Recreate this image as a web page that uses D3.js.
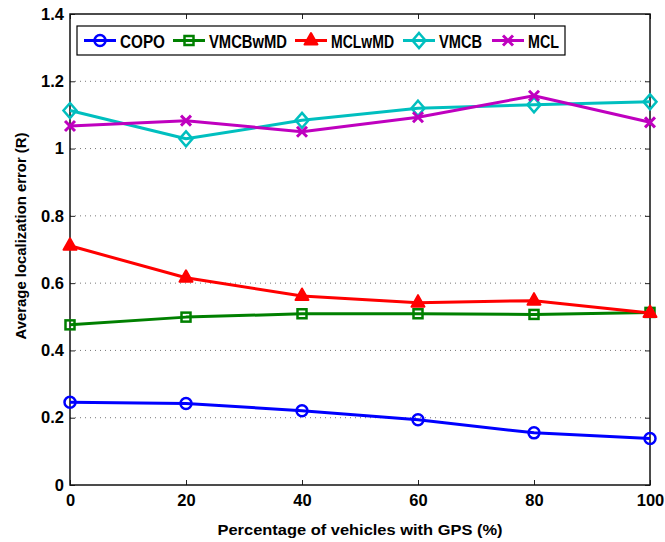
<!DOCTYPE html>
<html>
<head>
<meta charset="utf-8">
<script src="https://cdn.jsdelivr.net/npm/d3@7"></script>
<style>
  body { margin: 0; background: #fff; }
  text { font-family: "Liberation Sans", Arial, sans-serif; font-weight: bold; }
</style>
</head>
<body>
<svg id="chart" width="665" height="542"></svg>
<script>
// data
const gpsPct = [0, 20, 40, 60, 80, 100];
const copo    = [0.246, 0.242, 0.221, 0.194, 0.155, 0.138];
const vmcbwmd = [0.476, 0.499, 0.509, 0.509, 0.507, 0.513];
const mclwmd  = [0.711, 0.616, 0.562, 0.542, 0.548, 0.511];
const vmcb    = [1.113, 1.029, 1.084, 1.120, 1.130, 1.139];
const mcl     = [1.067, 1.083, 1.050, 1.093, 1.157, 1.078];
const yTicks = [0, 0.2, 0.4, 0.6, 0.8, 1, 1.2, 1.4];
const xTicks = [0, 20, 40, 60, 80, 100];

const series = [
  { name: "COPO",    values: copo,    color: "#0000ff", marker: "circle",   textW: 45 },
  { name: "VMCBwMD", values: vmcbwmd, color: "#008000", marker: "square",   textW: 78 },
  { name: "MCLwMD",  values: mclwmd,  color: "#ff0000", marker: "triangle", textW: 63 },
  { name: "VMCB",    values: vmcb,    color: "#00bfbf", marker: "diamond",  textW: 43 },
  { name: "MCL",     values: mcl,     color: "#bf00bf", marker: "cross",    textW: 31 }
];

const svg = d3.select("#chart");
const margin = { left: 70, right: 15, top: 14, bottom: 57 };
const W = 665, H = 542;

const x = d3.scaleLinear().domain([0, 100]).range([margin.left, W - margin.right]);
const y = d3.scaleLinear().domain([0, 1.4]).range([H - margin.bottom, margin.top]);

//_________________ grid
svg.append("g").selectAll("line")
  .data(yTicks.slice(1, -1))
  .enter().append("line")
  .attr("x1", x(0)).attr("x2", x(100))
  .attr("y1", d => y(d)).attr("y2", d => y(d))
  .attr("stroke", "#777").attr("stroke-width", 1)
  .attr("stroke-dasharray", "1,4");

//_________________ axes (ticks inward, box on)
const fmt = d => d3.format("")(+d.toFixed(1));
svg.append("g")
  .attr("transform", `translate(0,${y(0)})`)
  .call(d3.axisBottom(x).tickValues(xTicks).tickSize(-5).tickPadding(9).tickFormat(d3.format("d")))
  .call(g => g.select(".domain").remove());
svg.append("g")
  .attr("transform", `translate(0,${y(1.4)})`)
  .call(d3.axisTop(x).tickValues(xTicks).tickSize(-5).tickFormat(""))
  .call(g => g.select(".domain").remove());
svg.append("g")
  .attr("transform", `translate(${x(0)},0)`)
  .call(d3.axisLeft(y).tickValues(yTicks).tickSize(-5).tickPadding(6).tickFormat(fmt))
  .call(g => g.select(".domain").remove());
svg.append("g")
  .attr("transform", `translate(${x(100)},0)`)
  .call(d3.axisRight(y).tickValues(yTicks).tickSize(-5).tickFormat(""))
  .call(g => g.select(".domain").remove());

svg.selectAll(".tick line").attr("stroke", "#222");
svg.selectAll(".tick text").attr("font-size", 16.5).attr("fill", "#000");

svg.append("rect")
  .attr("x", x(0)).attr("y", y(1.4))
  .attr("width", x(100) - x(0)).attr("height", y(0) - y(1.4))
  .attr("fill", "none").attr("stroke", "#111").attr("stroke-width", 1.5);

//_________________ markers
function drawMarker(g, type, color) {
  if (type === "circle") {
    g.append("circle").attr("r", 5.5).attr("fill", "none").attr("stroke", color).attr("stroke-width", 2.5);
  } else if (type === "square") {
    g.append("rect").attr("x", -4.5).attr("y", -4.5).attr("width", 9).attr("height", 9)
      .attr("fill", "none").attr("stroke", color).attr("stroke-width", 2.5);
  } else if (type === "triangle") {
    g.append("path").attr("d", "M0,-7.5L6.5,4L-6.5,4Z")
      .attr("fill", color).attr("stroke", color).attr("stroke-width", 2).attr("stroke-linejoin", "round");
  } else if (type === "diamond") {
    g.append("path").attr("d", "M0,-7.5L6.5,0L0,7.5L-6.5,0Z")
      .attr("fill", "none").attr("stroke", color).attr("stroke-width", 2.5);
  } else if (type === "cross") {
    g.append("path").attr("d", "M-5,-5L5,5M-5,5L5,-5")
      .attr("stroke", color).attr("stroke-width", 3);
  }
}

//_________________ lines
const line = d3.line().x((d, i) => x(gpsPct[i])).y(d => y(d));
series.forEach(s => {
  svg.append("path")
    .datum(s.values)
    .attr("d", line)
    .attr("fill", "none")
    .attr("stroke", s.color)
    .attr("stroke-width", 3)
    .attr("stroke-linejoin", "round");
  s.values.forEach((v, i) => {
    const g = svg.append("g").attr("transform", `translate(${x(gpsPct[i])},${y(v)})`);
    drawMarker(g, s.marker, s.color);
  });
});

//_________________ legend
const legendX = [84, 173, 295, 403, 492];
const legend = svg.append("g");
legend.append("rect")
  .attr("x", 77).attr("y", 26).attr("width", 488).attr("height", 29)
  .attr("fill", "#fff").attr("stroke", "#000").attr("stroke-width", 1.2);
series.forEach((s, i) => {
  const lx = legendX[i];
  const g = legend.append("g");
  g.append("line").attr("x1", lx).attr("x2", lx + 32).attr("y1", 40.5).attr("y2", 40.5)
    .attr("stroke", s.color).attr("stroke-width", 3);
  drawMarker(g.append("g").attr("transform", `translate(${lx + 16},40.5)`), s.marker, s.color);
  g.append("text").attr("x", lx + 36).attr("y", 47.5).attr("font-size", 17.5)
    .attr("textLength", s.textW).attr("lengthAdjust", "spacingAndGlyphs")
    .text(s.name);
});

//_________________ axis titles
svg.append("text")
  .attr("x", x(50)).attr("y", 535)
  .attr("text-anchor", "middle").attr("font-size", 15.5)
  .attr("textLength", 285).attr("lengthAdjust", "spacingAndGlyphs")
  .text("Percentage of vehicles with GPS (%)");
svg.append("text")
  .attr("transform", `translate(25.5,236) rotate(-90)`)
  .attr("text-anchor", "middle").attr("font-size", 15.5)
  .attr("textLength", 207).attr("lengthAdjust", "spacingAndGlyphs")
  .text("Average localization error (R)");
</script>
</body>
</html>
